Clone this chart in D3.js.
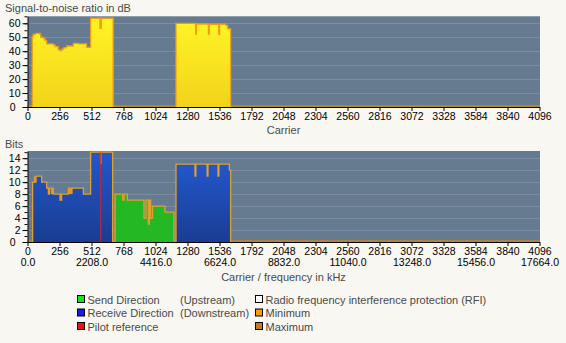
<!DOCTYPE html>
<html><head><meta charset="utf-8">
<script src="https://cdn.jsdelivr.net/npm/d3@7"></script>
<style>
body{margin:0;background:#f8f7f2;}
svg{display:block;font-family:"Liberation Sans",Arial,sans-serif;}
</style></head><body>
<svg id="c" width="566" height="343"></svg>
<script>
// ---------- data ----------
const carrierTicks = d3.range(0, 4097, 256);
const freqTicks = d3.range(0, 4097, 512);
const kHzPerCarrier = 4.3125;
const snrTicks = [0, 10, 20, 30, 40, 50, 60];
const snrMinorTicks = d3.range(0, 66, 5);
const bitsTicks = [0, 2, 4, 6, 8, 10, 12, 14];
const bitsMinorTicks = d3.range(0, 16, 1);

// SNR (dB) step data [carrier, value]
const snrBand1 = [[38,50.4],[45,52],[65,52.8],[100,52],[105,50],[127,49],[140,47.5],[153,45.2],[207,44.5],[220,43.2],[245,41],[260,40.4],[275,41.5],[290,42.5],[313,43.7],[367,45.6],[410,45.2],[473,42.8],[505,63.6],[580,56.4],[590,63.6],[685,0]];
const snrBand2 = [[1188,60],[1340,59.6],[1345,52.3],[1352,59.5],[1447,52.3],[1454,59.3],[1530,52],[1537,59.3],[1585,58.5],[1600,56],[1625,0]];

// Bits step data [carrier, bits]
const dsBits1 = [[41,10],[68,11],[113,10],[153,9],[167,8],[175,9],[207,8],[260,7],[273,8],[327,9],[447,8],[505,15],[681,0]];
const usBits1 = [[700,8],[761,7],[772,8],[799,7],[932,4],[948,7],[967,3],[975,7],[985,4],[1000,6],[1100,5],[1172,0]];
const dsBits2 = [[1188,13],[1340,11],[1347,13],[1437,11],[1444,13],[1524,11],[1531,13],[1615,12],[1625,0]];
// min/max ranges [start, end, low, high]
const bitsRanges = [[52,68,10,11],[167,175,8,9],[185,205,8,9],[260,273,7,8],[327,361,8,9],[580,593,13,15]];
const pilotCarrier = 585;

const legendItems = [
  {label:"Send Direction", extra:"(Upstream)", color:"#1ee01e", col:0, row:0},
  {label:"Receive Direction", extra:"(Downstream)", color:"#1a1aee", col:0, row:1},
  {label:"Pilot reference", extra:"", color:"#ee1111", col:0, row:2},
  {label:"Radio frequency interference protection (RFI)", extra:"", color:"#ffffff", col:1, row:0},
  {label:"Minimum", extra:"", color:"#ff9900", col:1, row:1},
  {label:"Maximum", extra:"", color:"#c87820", col:1, row:2}
];

// ---------- drawing ----------
const svg = d3.select("#c");
const X0 = 27.5, X1 = 539.5;
const x = d3.scaleLinear().domain([0, 4096]).range([X0, X1]);
const ySnr = d3.scaleLinear().domain([0, 65]).range([107, 16.3]);
const yBits = d3.scaleLinear().domain([0, 15.2]).range([242, 151]);
const FONT = '"Liberation Sans",Arial,sans-serif';

const defs = svg.append("defs");
const gy = defs.append("linearGradient").attr("id","gY").attr("x1",0).attr("y1",0).attr("x2",0).attr("y2",1);
gy.append("stop").attr("offset","0%").attr("stop-color","#fff424");
gy.append("stop").attr("offset","100%").attr("stop-color","#f2d21a");
const gb = defs.append("linearGradient").attr("id","gB").attr("x1",0).attr("y1",0).attr("x2",0).attr("y2",1);
gb.append("stop").attr("offset","0%").attr("stop-color","#2257cc");
gb.append("stop").attr("offset","100%").attr("stop-color","#1a3d92");

function panel(y, ticks, yMax) {
  const g = svg.append("g");
  g.append("rect").attr("x", x(0)+0.5).attr("y", y(yMax)).attr("width", x(4096)-x(0)).attr("height", y(0)-y(yMax)).attr("fill","#667b8f");
  g.selectAll("line.grid").data(ticks.filter(t=>t>0)).join("line")
    .attr("x1", x(0)+0.5).attr("x2", x(4096)).attr("y1", d=>Math.round(y(d))+0.5).attr("y2", d=>Math.round(y(d))+0.5)
    .attr("stroke","#7b8ea1").attr("stroke-width",1);
  return g;
}

function drawSeries(g, y, data, fill, stroke) {
  const area = d3.area().curve(d3.curveStepAfter).x(d=>x(d[0])).y0(y(0)).y1(d=>y(d[1]));
  const line = d3.line().curve(d3.curveStepAfter).x(d=>x(d[0])).y(d=>y(d[1]));
  g.append("path").datum(data).attr("d", area).attr("fill", fill);
  const outline = [[data[0][0],0]].concat(data);
  g.append("path").datum(outline).attr("d", line).attr("fill","none").attr("stroke",stroke).attr("stroke-width",1.3);
}

function axes(y, ticks, minor) {
  const g = svg.append("g");
  const ax = d3.axisLeft(y).tickValues(ticks).tickSize(5).tickSizeOuter(0).tickPadding(2).tickFormat(d3.format("d"));
  const gl = g.append("g").attr("transform",`translate(${x(0)},0)`).call(ax);
  gl.selectAll(".tick").filter(d=>d===0).select("text").attr("dx",-5);
  const am = d3.axisLeft(y).tickValues(minor).tickSize(3).tickFormat("").tickSizeOuter(0);
  g.append("g").attr("transform",`translate(${x(0)},0)`).call(am).select(".domain").remove();
  const bx = d3.axisBottom(x).tickValues(carrierTicks).tickSize(4).tickSizeOuter(0).tickPadding(2).tickFormat(d3.format("d"));
  g.append("g").attr("transform",`translate(0,${y(0)})`).call(bx);
  g.selectAll("text").attr("fill","#000").style("font-size","10.5px").style("font-family",FONT);
  g.selectAll("path.domain, line").attr("stroke","#000");
  return g;
}

// Top panel: SNR
const gTop = panel(ySnr, snrTicks, 65);
gTop.append("line").attr("x1",x(0)).attr("x2",x(4096)).attr("y1",ySnr(0)-1).attr("y2",ySnr(0)-1).attr("stroke","#c0841c").attr("stroke-width",2);
drawSeries(gTop, ySnr, snrBand1, "url(#gY)", "#f0a010");
drawSeries(gTop, ySnr, snrBand2, "url(#gY)", "#f0a010");
axes(ySnr, snrTicks, snrMinorTicks);

// Bottom panel: bits
const gBot = panel(yBits, bitsTicks, 15.2);
gBot.append("line").attr("x1",x(0)).attr("x2",x(4096)).attr("y1",yBits(0)-1).attr("y2",yBits(0)-1).attr("stroke","#a8844a").attr("stroke-width",2.2);
drawSeries(gBot, yBits, dsBits1, "url(#gB)", "#e0a030");
drawSeries(gBot, yBits, usBits1, "#25b825", "#e0a030");
drawSeries(gBot, yBits, dsBits2, "url(#gB)", "#e0a030");
gBot.selectAll("rect.mm").data(bitsRanges).join("rect").attr("class","mm")
  .attr("x", d=>x(d[0])).attr("width", d=>x(d[1])-x(d[0]))
  .attr("y", d=>yBits(d[3])).attr("height", d=>yBits(d[2])-yBits(d[3]))
  .attr("fill","#e8961e");
gBot.append("line").attr("x1",x(pilotCarrier)).attr("x2",x(pilotCarrier)).attr("y1",yBits(0)).attr("y2",yBits(13))
  .attr("stroke","#b02a48").attr("stroke-width",1.2);
gBot.append("line").attr("x1",x(pilotCarrier)).attr("x2",x(pilotCarrier)).attr("y1",yBits(13)).attr("y2",yBits(15))
  .attr("stroke","#e83a10").attr("stroke-width",1.6);
axes(yBits, bitsTicks, bitsMinorTicks);

// frequency row
const fx = d3.axisBottom(x).tickValues(freqTicks).tickSize(0).tickPadding(0).tickFormat(d=>d3.format(".1f")(d*kHzPerCarrier));
const gf = svg.append("g").attr("transform",`translate(0,${yBits(0)+17})`).call(fx);
gf.select(".domain").remove();
gf.selectAll("text").attr("fill","#000").style("font-size","10.5px").style("font-family",FONT);

// Titles
const labFill = "#4a4a4a", labSize = "11px";
svg.append("text").attr("x",5).attr("y",12).text("Signal-to-noise ratio in dB").attr("fill",labFill).style("font-size",labSize);
svg.append("text").attr("x",(X0+X1)/2).attr("y",134).attr("text-anchor","middle").text("Carrier").attr("fill",labFill).style("font-size",labSize);
svg.append("text").attr("x",5).attr("y",148).text("Bits").attr("fill",labFill).style("font-size",labSize);
svg.append("text").attr("x",(X0+X1)/2).attr("y",281).attr("text-anchor","middle").text("Carrier / frequency in kHz").attr("fill",labFill).style("font-size",labSize);

// Legend
const colX = [77.5, 255.5], rowY = [295.5, 309, 322.5];
const lg = svg.append("g");
legendItems.forEach(it => {
  const gx = colX[it.col], gyy = rowY[it.row];
  lg.append("rect").attr("x",gx).attr("y",gyy).attr("width",7).attr("height",7).attr("fill",it.color).attr("stroke","#000").attr("stroke-width",1);
  lg.append("text").attr("x",gx+10).attr("y",gyy+8).text(it.label).attr("fill","#4a4a4a").style("font-size","11px");
  if (it.extra) lg.append("text").attr("x",180).attr("y",gyy+8).text(it.extra).attr("fill","#4a4a4a").style("font-size","11px");
});
</script>
</body></html>
